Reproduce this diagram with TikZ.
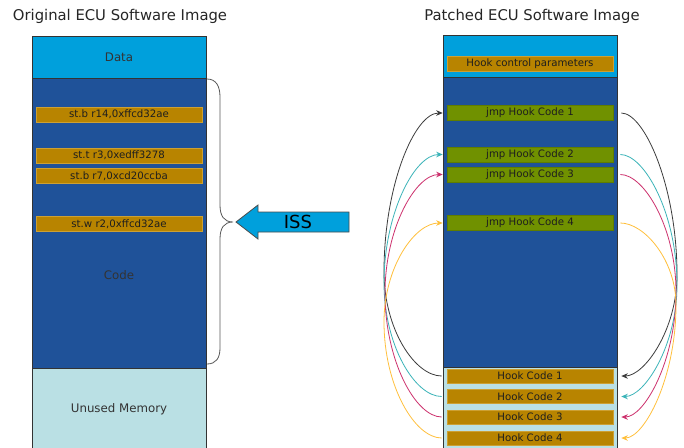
\documentclass[tikz,border=0pt]{standalone}
\usepackage{fontspec}
\setmainfont{DejaVu Sans}
\usetikzlibrary{arrows.meta}

\definecolor{databl}{RGB}{0,160,220}
\definecolor{codebl}{RGB}{31,82,153}
\definecolor{unusedbl}{RGB}{186,224,228}
\definecolor{barorange}{RGB}{184,132,0}
\definecolor{barorangeedge}{RGB}{205,160,50}
\definecolor{bargreen}{RGB}{112,145,0}
\definecolor{bargreenedge}{RGB}{95,125,0}
\definecolor{txtdark}{RGB}{30,30,30}
\definecolor{linkblack}{RGB}{60,60,60}
\definecolor{linkteal}{RGB}{60,180,185}
\definecolor{linkmagenta}{RGB}{205,50,110}
\definecolor{linkyellow}{RGB}{255,192,60}

\tikzset{
  region/.style={draw=black!80, line width=0.8pt, inner sep=0pt, anchor=north west},
  obar/.style={fill=barorange, draw=barorangeedge, line width=0.6pt, inner sep=0pt,
    minimum width=166pt, minimum height=15pt, text=txtdark,
    font=\fontsize{10.2}{11}\selectfont},
  gbar/.style={obar, fill=bargreen, draw=bargreenedge},
  title/.style={font=\fontsize{14.8}{16}\selectfont, text=black!85},
  label/.style={font=\fontsize{11.8}{13}\selectfont, text=black!80},
  link/.style={line width=0.8pt, -{Stealth[length=6.5pt,width=5.5pt]}},
}

\begin{document}
\begin{tikzpicture}[x=1pt,y=-1pt]
\useasboundingbox (0,0) rectangle (684,447);
\fill[white] (0,0) rectangle (684,447);

% ---- original image ----
\node[title] (t1) at (120,16) {Original ECU Software Image};
\draw[region, fill=unusedbl] (32,368) rectangle (206,449);
\draw[region, fill=codebl] (32,78) rectangle (206,368);
\draw[region, fill=databl] (32,36) rectangle (206,78);
\node[label] (ldata) at (119,57) {Data};
\node[label] (lcode) at (119,275) {Code};
\node[label] (lunused) at (119,409) {Unused Memory};
\node[obar] (s1) at (119,114.5) {st.b r14,0xffcd32ae};
\node[obar] (s2) at (119,155.5) {st.t r3,0xedff3278};
\node[obar] (s3) at (119,176) {st.b r7,0xcd20ccba};
\node[obar] (s4) at (119,224) {st.w r2,0xffcd32ae};

% brace over the code region
\coordinate (bt) at (207,79);
\coordinate (bm) at (233,222);
\coordinate (bb) at (207,364);
\draw[black!65, line width=0.8pt]
  (bt) .. controls (216,79) and (220,86) .. (220,97)
  -- (220,205) .. controls (220,216) and (224,222) .. (bm)
  .. controls (224,222) and (220,228) .. (220,239)
  -- (220,348) .. controls (220,358) and (216,364) .. (bb);

% ISS arrow
\draw[fill=databl, draw=black!70, line width=0.8pt]
  (349,212) -- (258,212) -- (258,205) -- (236,222) -- (258,239) -- (258,232) -- (349,232) -- cycle;
\node[font=\fontsize{18}{19}\selectfont, text=black] (iss) at (298,222) {ISS};

% ---- patched image ----
\node[title] (t2) at (532,16) {Patched ECU Software Image};
\draw[region, fill=unusedbl] (443,367) rectangle (617,449);
\draw[region, fill=codebl] (443,77) rectangle (617,367);
\draw[region, fill=databl] (443,35) rectangle (617,77);
\node[obar] (hcp) at (530,64) {Hook control parameters};
\node[gbar] (j1) at (530,113) {jmp Hook Code 1};
\node[gbar] (j2) at (530,154.5) {jmp Hook Code 2};
\node[gbar] (j3) at (530,174.5) {jmp Hook Code 3};
\node[gbar] (j4) at (530,223) {jmp Hook Code 4};
\node[obar, minimum height=14pt] (h1) at (530,376) {Hook Code 1};
\node[obar, minimum height=14pt] (h2) at (530,396.5) {Hook Code 2};
\node[obar, minimum height=14pt] (h3) at (530,417) {Hook Code 3};
\node[obar, minimum height=14pt] (h4) at (530,438) {Hook Code 4};

% turning points of the jump and return paths
\coordinate (l1) at (384,272);
\coordinate (l2) at (384,283);
\coordinate (l3) at (385,293);
\coordinate (l4) at (384,322);
\coordinate (r1) at (677,275);
\coordinate (r2) at (677,285);
\coordinate (r3) at (676,292);
\coordinate (r4) at (676,305);

% returns: hook code back to the patched site
\draw[link, linkblack, shorten <=5pt, shorten >=4pt]
  (h1.west) .. controls +(-32,0) and +(0,57) .. (l1) .. controls +(0,-87) and +(-32,0) .. (j1.west);
\draw[link, linkteal, shorten <=5pt, shorten >=4pt]
  (h2.west) .. controls +(-32,0) and +(0,62) .. (l2) .. controls +(0,-70) and +(-32,0) .. (j2.west);
\draw[link, linkmagenta, shorten <=5pt, shorten >=4pt]
  (h3.west) .. controls +(-31,0) and +(0,68) .. (l3) .. controls +(0,-65) and +(-31,0) .. (j3.west);
\draw[link, linkyellow, shorten <=5pt, shorten >=4pt]
  (h4.west) .. controls +(-32,0) and +(0,64) .. (l4) .. controls +(0,-55) and +(-32,0) .. (j4.west);

% jumps: patched site to hook code
\draw[link, linkblack, shorten <=8pt, shorten >=8pt]
  (j1.east) .. controls +(31,0) and +(0,-89) .. (r1) .. controls +(0,55) and +(31,0) .. (h1.east);
\draw[link, linkteal, shorten <=7pt, shorten >=8pt]
  (j2.east) .. controls +(31,0) and +(0,-72) .. (r2) .. controls +(0,61) and +(31,0) .. (h2.east);
\draw[link, linkmagenta, shorten <=7pt, shorten >=8pt]
  (j3.east) .. controls +(31,0) and +(0,-64) .. (r3) .. controls +(0,69) and +(31,0) .. (h3.east);
\draw[link, linkyellow, shorten <=7pt, shorten >=8pt]
  (j4.east) .. controls +(31,0) and +(0,-45) .. (r4) .. controls +(0,73) and +(31,0) .. (h4.east);
\end{tikzpicture}
\end{document}
